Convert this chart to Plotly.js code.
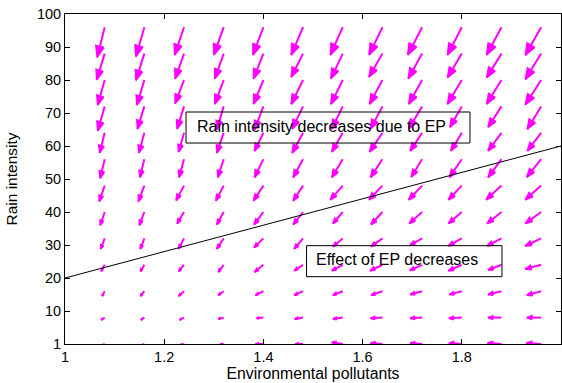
<!DOCTYPE html>
<html>
<head>
<meta charset="utf-8">
<script src="https://cdn.plot.ly/plotly-3.0.1.min.js"></script>
<style>html,body{margin:0;padding:0;background:#fff;}#chart{width:562px;height:383px;}</style>
</head>
<body>
<div id="chart"></div>
<script>
// Grid of the quiver plot
const gridX = [1.08, 1.16, 1.24, 1.32, 1.40, 1.48, 1.56, 1.64, 1.72, 1.80, 1.88, 1.96];
const gridY = [96, 88, 80, 72, 64, 56, 48, 40, 32, 24, 16, 8, 0];

// Horizontal components (x units), one row per gridY value
const U = [
  [-0.015,-0.017,-0.019,-0.020,-0.021,-0.024,-0.025,-0.027,-0.029,-0.029,-0.030,-0.032],
  [-0.016,-0.017,-0.018,-0.018,-0.020,-0.024,-0.024,-0.027,-0.028,-0.029,-0.030,-0.032],
  [-0.014,-0.015,-0.018,-0.018,-0.020,-0.024,-0.024,-0.026,-0.027,-0.029,-0.030,-0.032],
  [-0.014,-0.014,-0.014,-0.014,-0.018,-0.022,-0.022,-0.024,-0.027,-0.024,-0.027,-0.028],
  [-0.010,-0.011,-0.011,-0.014,-0.018,-0.022,-0.022,-0.026,-0.024,-0.022,-0.027,-0.028],
  [-0.009,-0.009,-0.010,-0.012,-0.018,-0.020,-0.022,-0.024,-0.022,-0.025,-0.027,-0.029],
  [-0.011,-0.012,-0.016,-0.016,-0.020,-0.020,-0.025,-0.027,-0.027,-0.027,-0.031,-0.032],
  [-0.009,-0.010,-0.014,-0.014,-0.019,-0.020,-0.020,-0.023,-0.026,-0.027,-0.029,-0.032],
  [-0.008,-0.008,-0.011,-0.014,-0.019,-0.018,-0.020,-0.023,-0.024,-0.027,-0.029,-0.032],
  [-0.007,-0.008,-0.011,-0.011,-0.018,-0.018,-0.022,-0.025,-0.025,-0.027,-0.027,-0.032],
  [-0.005,-0.008,-0.011,-0.011,-0.016,-0.018,-0.020,-0.023,-0.024,-0.025,-0.027,-0.029],
  [-0.007,-0.007,-0.009,-0.011,-0.014,-0.017,-0.020,-0.024,-0.024,-0.026,-0.027,-0.029],
  [-0.005,-0.005,-0.008,-0.007,-0.016,-0.016,-0.022,-0.024,-0.024,-0.026,-0.028,-0.030]
];
// Vertical components (y units)
const V = [
  [-9.1,-8.9,-8.4,-8.4,-8.4,-8.4,-8.4,-8.4,-8.4,-8.4,-8.4,-8.5],
  [-7.9,-8.1,-7.6,-7.6,-7.6,-7.1,-7.6,-7.1,-7.6,-7.3,-7.3,-7.8],
  [-7.6,-7.6,-7.1,-7.3,-7.3,-7.3,-7.3,-7.3,-7.3,-7.3,-7.3,-7.5],
  [-7.4,-6.8,-6.8,-7.0,-7.1,-6.8,-6.8,-6.8,-6.8,-6.3,-6.3,-6.9],
  [-6.1,-6.1,-5.8,-6.1,-5.5,-6.1,-5.8,-5.8,-5.5,-5.5,-5.5,-5.5],
  [-5.8,-5.5,-5.5,-5.5,-5.5,-5.5,-5.5,-5.5,-5.4,-5.5,-5.5,-5.4],
  [-4.8,-4.8,-4.5,-4.6,-4.6,-4.6,-4.3,-4.3,-4.3,-4.3,-4.3,-4.3],
  [-4.0,-4.0,-3.5,-3.8,-3.8,-3.8,-3.5,-3.8,-3.5,-3.5,-3.5,-3.5],
  [-3.2,-3.2,-3.2,-3.2,-2.8,-3.2,-2.5,-2.5,-2.0,-2.3,-2.3,-2.3],
  [-2.0,-2.0,-2.0,-2.2,-2.2,-1.8,-1.8,-1.8,-1.7,-1.8,-1.6,-1.3],
  [-1.5,-1.5,-1.5,-1.2,-1.2,-1.2,-1.2,-1.2,-1.0,-1.0,-1.0,-1.2],
  [-0.7,-0.7,-0.7,-0.4,-0.2,-0.4,-0.4,-0.2,-0.2,-0.2, 0.0, 0.0],
  [-0.3,-0.3,-0.3, 0.0, 0.0, 0.0, 0.5, 0.3, 0.3, 0.3, 0.3, 0.3]
];

// Boundary line
const lineX = [1, 2];
const lineY = [20, 60];

// Tick labels
const xTickVals = [1, 1.2, 1.4, 1.6, 1.8, 2];
const xTickText = ['1', '1.2', '1.4', '1.6', '1.8', '2'];
const yTickVals = [0, 10, 20, 30, 40, 50, 60, 70, 80, 90, 100];
const yTickText = ['1', '10', '20', '30', '40', '50', '60', '70', '80', '90', '100'];

// Text labels
const label1 = 'Rain intensity decreases due to EP';
const label2 = 'Effect of EP decreases';

const W = 562, H = 383;
const M = {l: 65, r: 1, t: 14, b: 39};
const xRange = [1, 2], yRange = [0, 100];
const kx = (W - M.l - M.r) / (xRange[1] - xRange[0]);
const ky = (H - M.t - M.b) / (yRange[1] - yRange[0]);

const alpha = 0.36, beta = 0.38;
const sx = [], sy = [], hx = [], hy = [];
gridY.forEach((y0, i) => {
  gridX.forEach((x0, j) => {
    const u = U[i][j], v = V[i][j];
    const px = u * kx, py = v * ky;
    const tx = x0 + u, ty = y0 + v;
    const b1x = tx + (-alpha * (px + beta * py)) / kx;
    const b1y = ty + (-alpha * (py - beta * px)) / ky;
    const b2x = tx + (-alpha * (px - beta * py)) / kx;
    const b2y = ty + (-alpha * (py + beta * px)) / ky;
    sx.push(x0, tx, null);
    sy.push(y0, ty, null);
    hx.push(b1x, tx, b2x, b1x, null);
    hy.push(b1y, ty, b2y, b1y, null);
  });
});

const font = 'Liberation Sans, Arial, Helvetica, sans-serif';

const traces = [
  {x: sx, y: sy, type: 'scatter', mode: 'lines', line: {color: '#ff00ff', width: 2}, hoverinfo: 'skip', showlegend: false},
  {x: hx, y: hy, type: 'scatter', mode: 'lines', fill: 'toself', fillcolor: '#ff00ff', line: {color: '#ff00ff', width: 1.5}, hoverinfo: 'skip', showlegend: false},
  {x: lineX, y: lineY, type: 'scatter', mode: 'lines', line: {color: '#000000', width: 1}, showlegend: false}
];

const axisCommon = {
  showgrid: false, zeroline: false, showline: true, linecolor: '#000', linewidth: 1,
  mirror: 'ticks', ticks: 'inside', ticklen: 5, tickcolor: '#000', tickwidth: 1,
  tickfont: {family: font, size: 14.5, color: '#000'}
};

const layout = {
  width: W, height: H,
  margin: M,
  paper_bgcolor: '#fff', plot_bgcolor: '#fff',
  font: {family: font, color: '#000'},
  xaxis: Object.assign({}, axisCommon, {
    range: xRange, tickmode: 'array', tickvals: xTickVals, ticktext: xTickText,
    title: {text: 'Environmental pollutants', font: {family: font, size: 15.8, color: '#000'}, standoff: 3}
  }),
  yaxis: Object.assign({}, axisCommon, {
    range: yRange, tickmode: 'array', tickvals: yTickVals, ticktext: yTickText,
    title: {text: 'Rain intensity', font: {family: font, size: 15.5, color: '#000'}, standoff: 15}
  }),
  shapes: [
    {type: 'rect', xref: 'x', yref: 'y', x0: 1.244, x1: 1.8165, y0: 60.9, y1: 70.3, line: {color: '#000', width: 1}},
    {type: 'rect', xref: 'x', yref: 'y', x0: 1.487, x1: 1.881, y0: 20.4, y1: 29.8, line: {color: '#000', width: 1}}
  ],
  annotations: [
    {text: label1, x: 1.262, y: 66.0, xref: 'x', yref: 'y', xanchor: 'left', yanchor: 'middle', showarrow: false, font: {family: font, size: 16, color: '#000'}},
    {text: label2, x: 1.502, y: 25.6, xref: 'x', yref: 'y', xanchor: 'left', yanchor: 'middle', showarrow: false, font: {family: font, size: 16, color: '#000'}}
  ]
};

Plotly.newPlot('chart', traces, layout, {staticPlot: true, displayModeBar: false});
</script>
</body>
</html>
